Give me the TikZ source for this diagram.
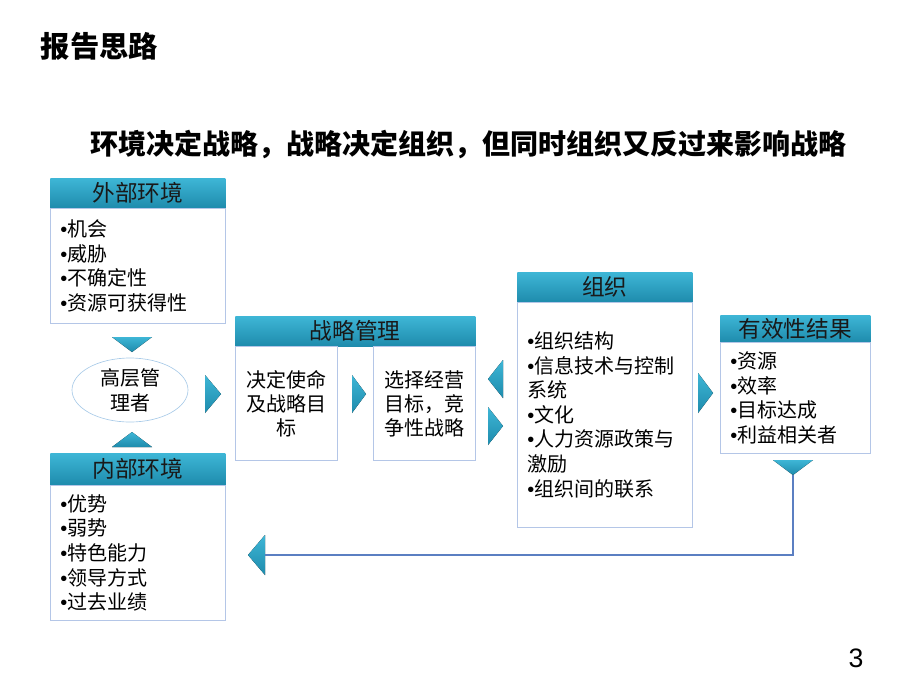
\documentclass[tikz,border=0pt]{standalone}
\usepackage{fontspec}
\setmainfont{Noto Sans CJK SC}
\newfontfamily\latinfont{Liberation Sans}
\usetikzlibrary{positioning,shapes.geometric}

\newcommand{\bul}{{\latinfont\textbullet}}

\definecolor{tealhi}{HTML}{3EB6D6}
\definecolor{tealdk}{HTML}{1E8BAC}
\definecolor{boxline}{HTML}{B4C6E7}
\definecolor{ovalline}{HTML}{A9CBE8}
\definecolor{backline}{HTML}{5B7FC2}

\tikzset{
	hdr/.style={top color=tealhi, bottom color=tealdk, anchor=north west, inner sep=0pt, text=black!90, font=\fontsize{17}{20}\selectfont},
	body/.style={draw=boxline, line width=0.6pt, anchor=north west, align=left, inner xsep=7.5pt, inner ysep=0pt, font=\fontsize{15}{18.4}\selectfont},
	midbox/.style={draw=boxline, line width=0.6pt, anchor=north west, align=center, inner sep=0pt, text width=70pt, minimum width=76.5pt, minimum height=85.5pt, font=\fontsize{15}{18}\selectfont},
	tri/.style={top color=tealhi, bottom color=tealdk, draw=none}
}

\begin{document}
\begin{tikzpicture}[x=0.75pt, y=-0.75pt]
	\useasboundingbox (0,0) rectangle (920,690);
	%titles
	\node[anchor=west, font=\fontsize{22}{26}\selectfont\bfseries] (title) at (36,46) {报告思路};
	\node[font=\fontsize{21}{25}\selectfont\bfseries] (motto) at (468,145) {环境决定战略，战略决定组织，但同时组织又反过来影响战略};
	\node[font=\latinfont\fontsize{20}{24}\selectfont] (pageno) at (856,658) {3};

	%external environment
	\node[hdr, minimum width=131.25pt, minimum height=22.5pt] (exthead) at (50,178) {外部环境};
	\node[body, text width=116.25pt, minimum height=86.25pt] (extbody) at (50,208) {\bul 机会\\\bul 威胁\\\bul 不确定性\\\bul 资源可获得性};

	%top management
	\node[draw=ovalline, ellipse, line width=0.5pt, minimum width=87pt, minimum height=48pt, inner sep=0pt, align=center, font=\fontsize{15}{18.75}\selectfont] (topmgr) at (130,390) {高层管\\理者};

	%internal environment
	\node[hdr, minimum width=131.25pt, minimum height=24pt] (inthead) at (50,453) {内部环境};
	\node[body, text width=116.25pt, minimum height=101.25pt] (intbody) at (50,485) {\bul 优势\\\bul 弱势\\\bul 特色能力\\\bul 领导方式\\\bul 过去业绩};

	%strategic management
	\node[hdr, minimum width=180pt, minimum height=22.5pt] (strathead) at (235,316) {战略管理};
	\node[midbox] (mission) at (235,346) {决定使命\\及战略目\\标};
	\node[midbox] (compete) at (373,346) {选择经营\\目标，竞\\争性战略};

	%organization
	\node[hdr, minimum width=131.25pt, minimum height=22.5pt] (orghead) at (517,272) {组织};
	\node[body, text width=116.25pt, minimum height=168.75pt] (orgbody) at (517,302) {\bul 组织结构\\\bul 信息技术与控制\\系统\\\bul 文化\\\bul 人力资源政策与\\激励\\\bul 组织间的联系};

	%results
	\node[hdr, minimum width=112.5pt, minimum height=20.25pt] (reshead) at (720,315) {有效性结果};
	\node[body, text width=97.5pt, minimum height=83.25pt] (resbody) at (720,342) {\bul 资源\\\bul 效率\\\bul 目标达成\\\bul 利益相关者};

	%arrow heads
	\fill[tri] (112,337) -- (152,337) -- (132,352) -- cycle;
	\fill[tri] (112,447) -- (152,447) -- (132,432) -- cycle;
	\fill[tri] (205,375) -- (205,413) -- (221,394) -- cycle;
	\fill[tri] (352,375) -- (352,413) -- (366,394) -- cycle;
	\fill[tri] (503,360) -- (503,398) -- (488,379) -- cycle;
	\fill[tri] (488,407) -- (488,445) -- (503,426) -- cycle;
	\fill[tri] (698,373) -- (698,413) -- (713,393) -- cycle;
	\fill[tri] (773,460) -- (813,460) -- (793,475) coordinate (outtip) -- cycle;
	\fill[tri] (265,535) -- (265,575) -- (248,555) -- cycle;
	\coordinate (backtip) at (265,555);

	%feedback line
	\draw[backline, line width=1pt] (outtip) |- (backtip);
\end{tikzpicture}
\end{document}
